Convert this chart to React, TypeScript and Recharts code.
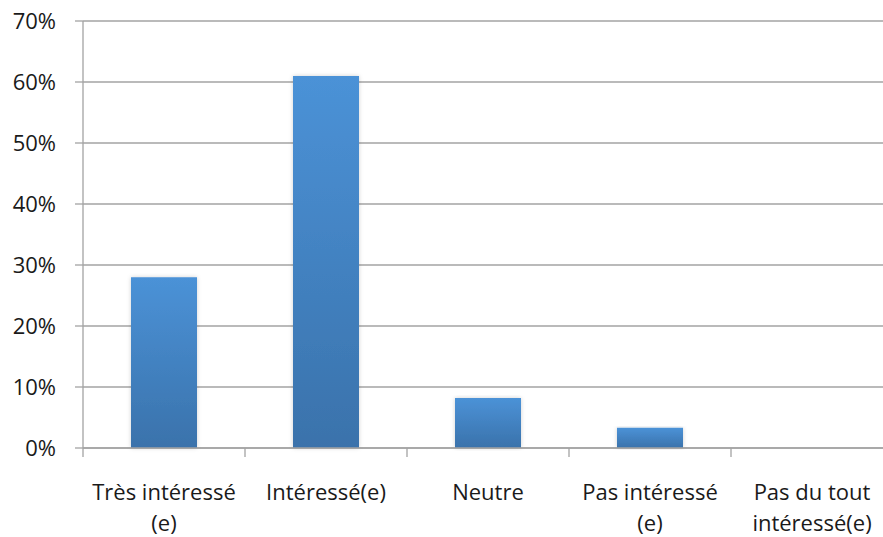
import { BarChart, Bar, XAxis, YAxis, CartesianGrid } from "recharts";

const categories = [
  "Très intéressé\n(e)",
  "Intéressé(e)",
  "Neutre",
  "Pas intéressé\n(e)",
  "Pas du tout\nintéressé(e)",
];
const shares = [28, 61, 8.2, 3.3, 0];
const yTicks = [0, 10, 20, 30, 40, 50, 60, 70];

const data = categories.map((name, i) => ({ name, value: shares[i] }));

const FONT = "'Open Sans', sans-serif";
const AXIS_GRAY = "#a3a3a3";

function CategoryTick(props: any) {
  const { x, y, payload, index, visibleTicksCount } = props;
  const half = payload.offset ?? 0;
  const lines = String(payload.value).split("\n");
  const isLast = index === (visibleTicksCount ?? categories.length) - 1;
  return (
    <g>
      <line x1={x - half} x2={x - half} y1={y} y2={y + 9} stroke={AXIS_GRAY} strokeWidth={1.3} />
      {isLast && (
        <line x1={x + half} x2={x + half} y1={y} y2={y + 9} stroke={AXIS_GRAY} strokeWidth={1.3} />
      )}
      <text x={x} y={y + 52} textAnchor="middle" fill="#1a1a1a" fontSize={22} fontFamily={FONT}>
        {lines.map((l, i) => (
          <tspan key={i} x={x} dy={i === 0 ? 0 : 31}>
            {l}
          </tspan>
        ))}
      </text>
    </g>
  );
}

export default function App() {
  return (
    <div
      style={{
        position: "absolute",
        left: 0,
        top: 0,
        width: 883,
        height: 537,
        overflow: "hidden",
        background: "#fff",
      }}
    >
      <BarChart
        width={900}
        height={537}
        data={data}
        margin={{ top: 21, right: 7, left: 0, bottom: 0 }}
      >
        <defs>
          <linearGradient id="barFill" x1="0" y1="0" x2="0" y2="1">
            <stop offset="0%" stopColor="#4b92d7" />
            <stop offset="100%" stopColor="#3a72ab" />
          </linearGradient>
          <filter id="barShadow" x="-20%" y="-5%" width="140%" height="110%">
            <feDropShadow dx="0" dy="0" stdDeviation="2" floodColor="#000" floodOpacity="0.18" />
          </filter>
        </defs>
        <CartesianGrid vertical={false} stroke={AXIS_GRAY} strokeWidth={1.3} />
        <XAxis
          dataKey="name"
          height={89}
          interval={0}
          axisLine={{ stroke: AXIS_GRAY, strokeWidth: 1.3 }}
          tickLine={false}
          tickSize={0}
          tickMargin={0}
          tick={<CategoryTick />}
        />
        <YAxis
          width={83}
          domain={[0, 70]}
          ticks={yTicks}
          interval={0}
          tickFormatter={(v: number) => `${v}%`}
          axisLine={{ stroke: AXIS_GRAY, strokeWidth: 1.3 }}
          tickLine={{ stroke: AXIS_GRAY, strokeWidth: 1.3 }}
          tickSize={8}
          tickMargin={19}
          tick={{ fill: "#1a1a1a", fontSize: 22, fontFamily: FONT }}
        />
        <Bar
          dataKey="value"
          barSize={66}
          fill="url(#barFill)"
          filter="url(#barShadow)"
          isAnimationActive={false}
        />
      </BarChart>
    </div>
  );
}
